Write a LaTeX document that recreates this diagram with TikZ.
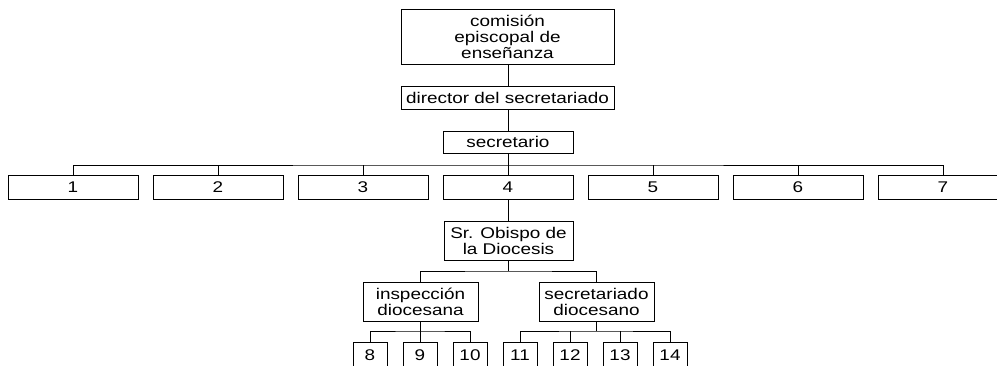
\documentclass[tikz,border=0pt]{standalone}
\usepackage{fontspec}
\setmainfont[FakeStretch=1.22]{Liberation Sans}
\begin{document}
\begin{tikzpicture}[x=1pt,y=-1pt,
  box/.style={draw=black, line width=0.9pt, inner sep=0pt, align=center,
    font=\fontsize{15.5}{16}\selectfont},
  wire/.style={draw=black, line width=0.9pt}]
\useasboundingbox (0,0) rectangle (997,365);
\clip (0,0) rectangle (997,365);
% top levels
\node[box, minimum width=213, minimum height=55] (com) at (507.5,36.5) {comisión\\episcopal de\\enseñanza};
\node[box, minimum width=213, minimum height=23] (dir) at (507.5,97.5) {director del secretariado};
\node[box, minimum width=130, minimum height=22] (sec) at (508,142) {secretario};
% row 1..7
\foreach \i in {1,...,7}{
  \node[box, minimum width=130, minimum height=24] (b\i) at ({73+145*(\i-1)},187) {\i};
}
\node[box, minimum width=129, minimum height=39] (obi) at (508.5,240.5) {Sr. Obispo de\\la Diocesis};
\node[box, minimum width=115, minimum height=39] (ins) at (420.5,301.5) {inspección\\diocesana};
\node[box, minimum width=115, minimum height=39] (sdi) at (596.5,301.5) {secretariado\\diocesano};
% small boxes
\node[box, minimum width=34, minimum height=26] (s8) at (370,355) {8};
\node[box, minimum width=34, minimum height=26] (s9) at (420,355) {9};
\node[box, minimum width=34, minimum height=26] (s10) at (470,355) {10};
\node[box, minimum width=34, minimum height=26] (s11) at (520,355) {11};
\node[box, minimum width=34, minimum height=26] (s12) at (570,355) {12};
\node[box, minimum width=34, minimum height=26] (s13) at (620,355) {13};
\node[box, minimum width=34, minimum height=26] (s14) at (670,355) {14};
% connectors
\coordinate (bus) at (508,165);
\coordinate (bus2) at (508.5,271);
\coordinate (busL) at (420,331);
\coordinate (busR) at (596.5,331);
\draw[wire] (com.south -| 508,0) -- (dir.north -| 508,0);
\draw[wire] (dir.south -| 508,0) -- (sec.north);
\draw[wire] (sec.south) -- (b4.north);
\draw[wire] (b1.north) |- (bus) -| (b7.north);
\foreach \i in {2,3,5,6}{ \draw[wire] (b\i.north) -- (b\i.north |- bus); }
\draw[wire] (b4.south) -- (obi.north -| b4.south);
\draw[wire] (obi.south) -- (bus2);
\draw[wire] (ins.north) |- (bus2) -| (sdi.north);
\draw[wire] (ins.south -| s9.north) -- (s9.north);
\draw[wire] (s8.north) |- (busL) -| (s10.north);
\draw[wire] (sdi.south) -- (busR);
\draw[wire] (s11.north) |- (busR) -| (s14.north);
\draw[wire] (s12.north) -- (s12.north |- busR);
\draw[wire] (s13.north) -- (s13.north |- busR);
\end{tikzpicture}
\end{document}
